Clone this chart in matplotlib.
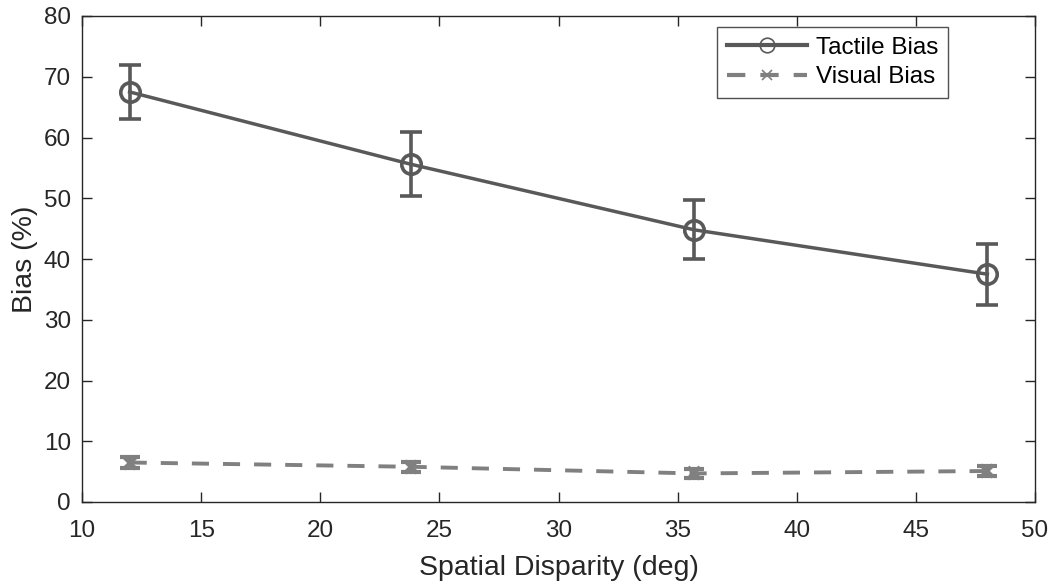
import matplotlib
matplotlib.use("Agg")
import matplotlib.pyplot as plt

disparity = [12, 23.8, 35.7, 48]
tactile_bias = [67.5, 55.6, 44.8, 37.5]
tactile_err = [4.5, 5.3, 4.85, 5.0]
visual_bias = [6.5, 5.8, 4.7, 5.1]
visual_err = [0.9, 0.8, 0.8, 0.8]

plt.rcParams['font.family'] = ['Liberation Sans', 'DejaVu Sans']

W, H = 1052, 586
fig = plt.figure(figsize=(W / 100, H / 100), dpi=100)
ax = fig.add_axes([82 / W, 1 - 502 / H, (1035 - 82) / W, (502 - 16) / H])

dark = '#595959'
light = '#808080'
ink = '#262626'

ax.errorbar(disparity, tactile_bias, yerr=tactile_err, color=dark, lw=2.5,
            marker='o', ms=14, mfc='none', mew=2.6, capsize=8, capthick=2.6,
            elinewidth=2.6, label='Tactile Bias')
ax.errorbar(disparity, visual_bias, yerr=visual_err, color=light, lw=2.8,
            ls=(0, (4.4, 3.6)), marker='x', ms=9, mew=3, capsize=7,
            capthick=3, elinewidth=3, label='Visual Bias')

ax.set_xlim(10, 50)
ax.set_ylim(0, 80)
ax.set_xticks(range(10, 51, 5))
ax.set_yticks(range(0, 81, 10))
ax.tick_params(direction='in', length=7, width=1, labelsize=17.5,
               colors=ink, top=True, right=True)
ax.tick_params(axis='x', pad=13)
ax.tick_params(axis='y', pad=8)
for s in ax.spines.values():
    s.set_color(ink)
    s.set_linewidth(1)

ax.set_xlabel('Spatial Disparity (deg)', fontsize=20.5, color=ink, labelpad=9)
ax.set_ylabel('Bias (%)', fontsize=20.5, color=ink, labelpad=4)

handles, labels = ax.get_legend_handles_labels()
leg = ax.legend([h[0] for h in handles], labels, loc='upper right',
                bbox_to_anchor=(948 / W, 1 - 27 / H),
                bbox_transform=fig.transFigure, borderaxespad=0,
                fontsize=17.5, frameon=True, fancybox=False, edgecolor=ink,
                handlelength=3.3, labelspacing=0.3, handletextpad=0.35,
                borderpad=0.4)
leg.get_frame().set_linewidth(1)
for lh in leg.get_lines():
    lh.set_markersize(lh.get_markersize() * 0.75)
    lh.set_markeredgewidth(1.2)
    lh.set_linewidth(3)

fig.savefig('out.png', dpi=100)
